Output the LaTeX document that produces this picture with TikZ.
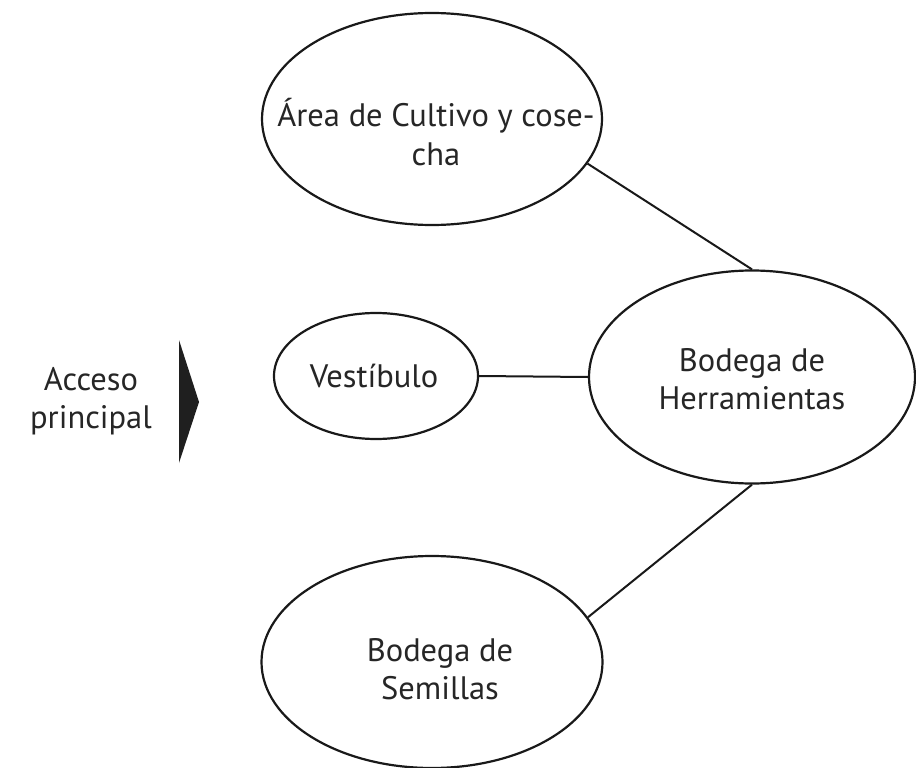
\documentclass[tikz,border=0pt]{standalone}
\usepackage{fontspec}
\setmainfont{PT Sans}
\usetikzlibrary{shapes.geometric}
\begin{document}
\begin{tikzpicture}[x=1pt,y=-1pt,
  zone/.style={draw=black!90, line width=2.2pt, ellipse, inner sep=0pt, fill=white},
  lbl/.style={align=center, font=\fontsize{32.5}{38.5}\selectfont, inner sep=0pt, text=black!85},
  link/.style={draw=black!90, line width=2pt}]
\useasboundingbox (0,0) rectangle (916,768);
\fill[white] (0,0) rectangle (916,768);
% ellipses
\node[zone, minimum width=340pt, minimum height=212pt] (cultivo) at (432,119) {};
\node[zone, minimum width=204pt, minimum height=126pt] (vest) at (376,376) {};
\node[zone, minimum width=326pt, minimum height=213pt] (herr) at (752,377) {};
\node[zone, minimum width=341pt, minimum height=212pt] (semillas) at (432,662) {};
% labels
\node[lbl] (cultivo-t) at (436,132) {Área de Cultivo y cose-\\cha};
\node[lbl] (vest-t) at (374,376) {Vestíbulo};
\node[lbl] (herr-t) at (752,379) {Bodega de\\Herramientas};
\node[lbl] (semillas-t) at (440,669) {Bodega de\\Semillas};
\node[lbl] (acceso) at (91,401) {Acceso\\principal};
% connectors
\draw[link] (cultivo.-16) -- (herr.north);
\draw[link] (vest.east) -- (herr.west);
\draw[link] (semillas.16) -- (herr.south);
% entrance arrow
\coordinate (tri-a) at (179,340);
\coordinate (tri-b) at (199,402);
\coordinate (tri-c) at (179,463);
\fill[black!88] (tri-a) -- (tri-b) -- (tri-c) -- cycle;
\end{tikzpicture}
\end{document}
